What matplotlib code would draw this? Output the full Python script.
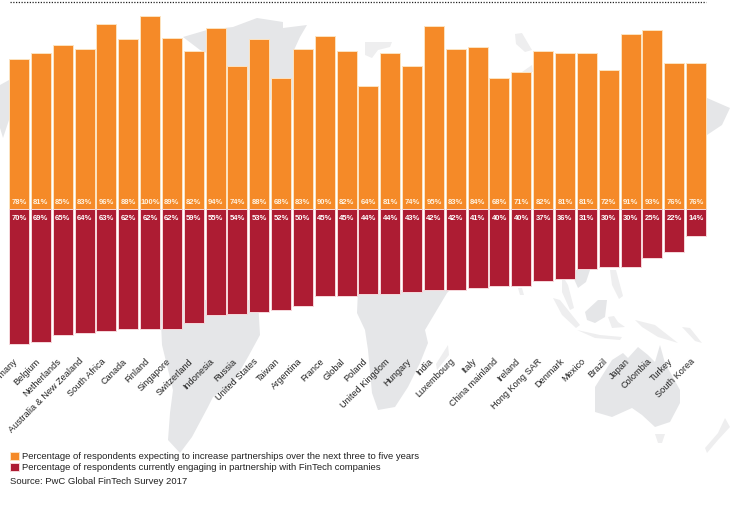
#!/usr/bin/env python3
"""
Partnerships with FinTech companies, by territory (PwC survey 2017).
"""

import matplotlib
matplotlib.use('Agg')
import matplotlib.pyplot as plt
from matplotlib.patches import Polygon
from matplotlib.transforms import ScaledTranslation

matplotlib.rcParams['font.family'] = ['Liberation Sans', 'DejaVu Sans']

countries = ["Germany", "Belgium", "Netherlands", "Australia & New Zealand", "South Africa",
             "Canada", "Finland", "Singapore", "Switzerland", "Indonesia", "Russia",
             "United States", "Taiwan", "Argentina", "France", "Global", "Poland",
             "United Kingdom", "Hungary", "India", "Luxembourg", "Italy", "China mainland",
             "Ireland", "Hong Kong SAR", "Denmark", "Mexico", "Brazil", "Japan", "Colombia",
             "Turkey", "South Korea"]
expecting = [78, 81, 85, 83, 96, 88, 100, 89, 82, 94, 74, 88, 68, 83, 90, 82,
             64, 81, 74, 95, 83, 84, 68, 71, 82, 81, 81, 72, 91, 93, 76, 76]
engaging = [70, 69, 65, 64, 63, 62, 62, 62, 59, 55, 54, 53, 52, 50, 45, 45,
            44, 44, 43, 42, 42, 41, 40, 40, 37, 36, 31, 30, 30, 25, 22, 14]
legend_labels = ["Percentage of respondents expecting to increase partnerships over the next three to five years",
                 "Percentage of respondents currently engaging in partnership with FinTech companies"]
source = "Source: PwC Global FinTech Survey 2017"

ORANGE = '#f58a28'
RED = '#ad1c33'
LAND = '#e5e6e8'
ISLAND = '#eeeeef'
W, H = 730, 508

# background world map, rough outlines in pixels
LAND_SHAPES = [
    [(0, 85), (9, 80), (9, 120), (3, 138), (0, 128)],
    [(183, 37), (207, 30), (233, 27), (257, 18), (283, 22), (283, 28), (307, 25), (300, 37),
     (294, 50), (294, 100), (228, 100), (222, 60), (200, 50)],
    [(160, 300), (258, 300), (260, 335), (248, 357), (233, 383), (213, 397), (208, 407),
     (192, 437), (180, 453), (168, 440), (170, 413), (173, 390), (162, 345)],
    [(358, 290), (450, 290), (447, 293), (425, 330), (428, 343), (420, 363), (408, 387),
     (395, 407), (378, 410), (372, 393), (368, 350), (365, 330), (357, 313)],
    [(595, 387), (612, 360), (623, 353), (628, 358), (638, 347), (648, 355), (655, 362),
     (660, 345), (665, 363), (680, 390), (680, 403), (670, 422), (655, 427), (642, 415),
     (632, 408), (612, 417), (595, 412)],
    [(585, 312), (598, 300), (607, 300), (605, 317), (595, 323), (587, 320)],
    [(570, 270), (590, 270), (586, 282), (578, 288)],
    [(707, 98), (730, 108), (722, 125), (707, 135)],
]
ISLAND_SHAPES = [
    [(448, 345), (449, 355), (437, 370), (436, 364)],
    [(655, 434), (665, 434), (662, 443), (658, 443)],
    [(725, 418), (730, 427), (718, 440), (707, 453), (705, 448), (718, 433)],
    [(553, 298), (560, 300), (580, 325), (576, 328), (562, 315)],
    [(577, 330), (600, 335), (622, 337), (620, 340), (595, 338)],
    [(608, 317), (614, 316), (618, 322), (625, 327), (612, 328)],
    [(635, 320), (655, 325), (678, 343), (658, 337), (642, 327)],
    [(562, 275), (568, 285), (574, 308), (570, 310), (562, 292)],
    [(610, 270), (616, 270), (623, 296), (619, 299), (612, 285)],
    [(518, 288), (522, 288), (524, 295), (520, 295)],
    [(682, 327), (690, 328), (702, 343), (695, 341)],
    [(365, 42), (392, 42), (390, 47), (378, 50), (372, 58), (365, 55)],
    [(515, 34), (522, 33), (532, 50), (525, 52), (516, 44)],
    [(522, 72), (532, 65), (533, 72)],
]

BASE_PX = 209.3
AXIS_PX = 360
PX_PER_PCT = 1.93
PITCH = 21.84
FIRST_PX = 19


def plot_chart():
    fig = plt.figure(figsize=(W / 100, H / 100), dpi=100, facecolor='white')

    # map behind everything
    bg = fig.add_axes([0, 0, 1, 1], zorder=0)
    bg.set_xlim(0, W)
    bg.set_ylim(H, 0)
    bg.axis('off')
    for shape in LAND_SHAPES:
        bg.add_patch(Polygon(shape, closed=True, facecolor=LAND, edgecolor='none'))
    for shape in ISLAND_SHAPES:
        bg.add_patch(Polygon(shape, closed=True, facecolor=ISLAND, edgecolor='none'))
    bg.plot([10, 706], [1.5, 1.5], color='#222222', lw=0.9, dashes=(1, 1.2))

    ax = fig.add_axes([0, 1 - AXIS_PX / H, 1, AXIS_PX / H], zorder=1)
    ax.patch.set_alpha(0)
    x = list(range(len(countries)))
    neg = [-v for v in engaging]
    up = ax.bar(x, expecting, width=0.915, color=ORANGE, edgecolor='#fde3c0', linewidth=0.7)
    down = ax.bar(x, neg, width=0.915, color=RED, edgecolor='#f7d8dc', linewidth=0.7)
    ax.set_xlim(-FIRST_PX / PITCH, (W - FIRST_PX) / PITCH)
    ax.set_ylim(-(AXIS_PX - BASE_PX) / PX_PER_PCT, BASE_PX / PX_PER_PCT)

    for i, (a, b) in enumerate(zip(expecting, engaging)):
        ax.text(i, 3.6, f'{a}%', ha='center', va='center', fontsize=5.5,
                fontweight='bold', color='#fff3e2')
        ax.text(i, -4.8, f'{b}%', ha='center', va='center', fontsize=5.5,
                fontweight='bold', color='white')

    ax.set_yticks([])
    ax.set_xticks(x)
    ax.set_xticklabels(countries, rotation=45, ha='right', va='center', rotation_mode='anchor',
                       fontsize=6.6, color='#222222')
    ax.tick_params(axis='x', length=0, pad=0)
    # nudge the slanted labels left so they end under the bar centres
    nudge = ScaledTranslation(-2.5 / 100, 0, fig.dpi_scale_trans)
    for label in ax.get_xticklabels():
        label.set_transform(label.get_transform() + nudge)
    for spine in ax.spines.values():
        spine.set_visible(False)

    fig.legend([up, down], legend_labels, loc='upper left', bbox_to_anchor=(10 / W, 1 - 452 / H),
               frameon=False, fontsize=6.8, borderpad=0, borderaxespad=0, handlelength=0.9,
               handleheight=0.9, handletextpad=0.4, labelspacing=0.22, labelcolor='#222222')
    fig.text(10 / W, 1 - 482 / H, source, fontsize=6.8, color='#222222', va='center')

    fig.savefig('out.png', dpi=100)
    plt.close(fig)


if __name__ == "__main__":
    plot_chart()
